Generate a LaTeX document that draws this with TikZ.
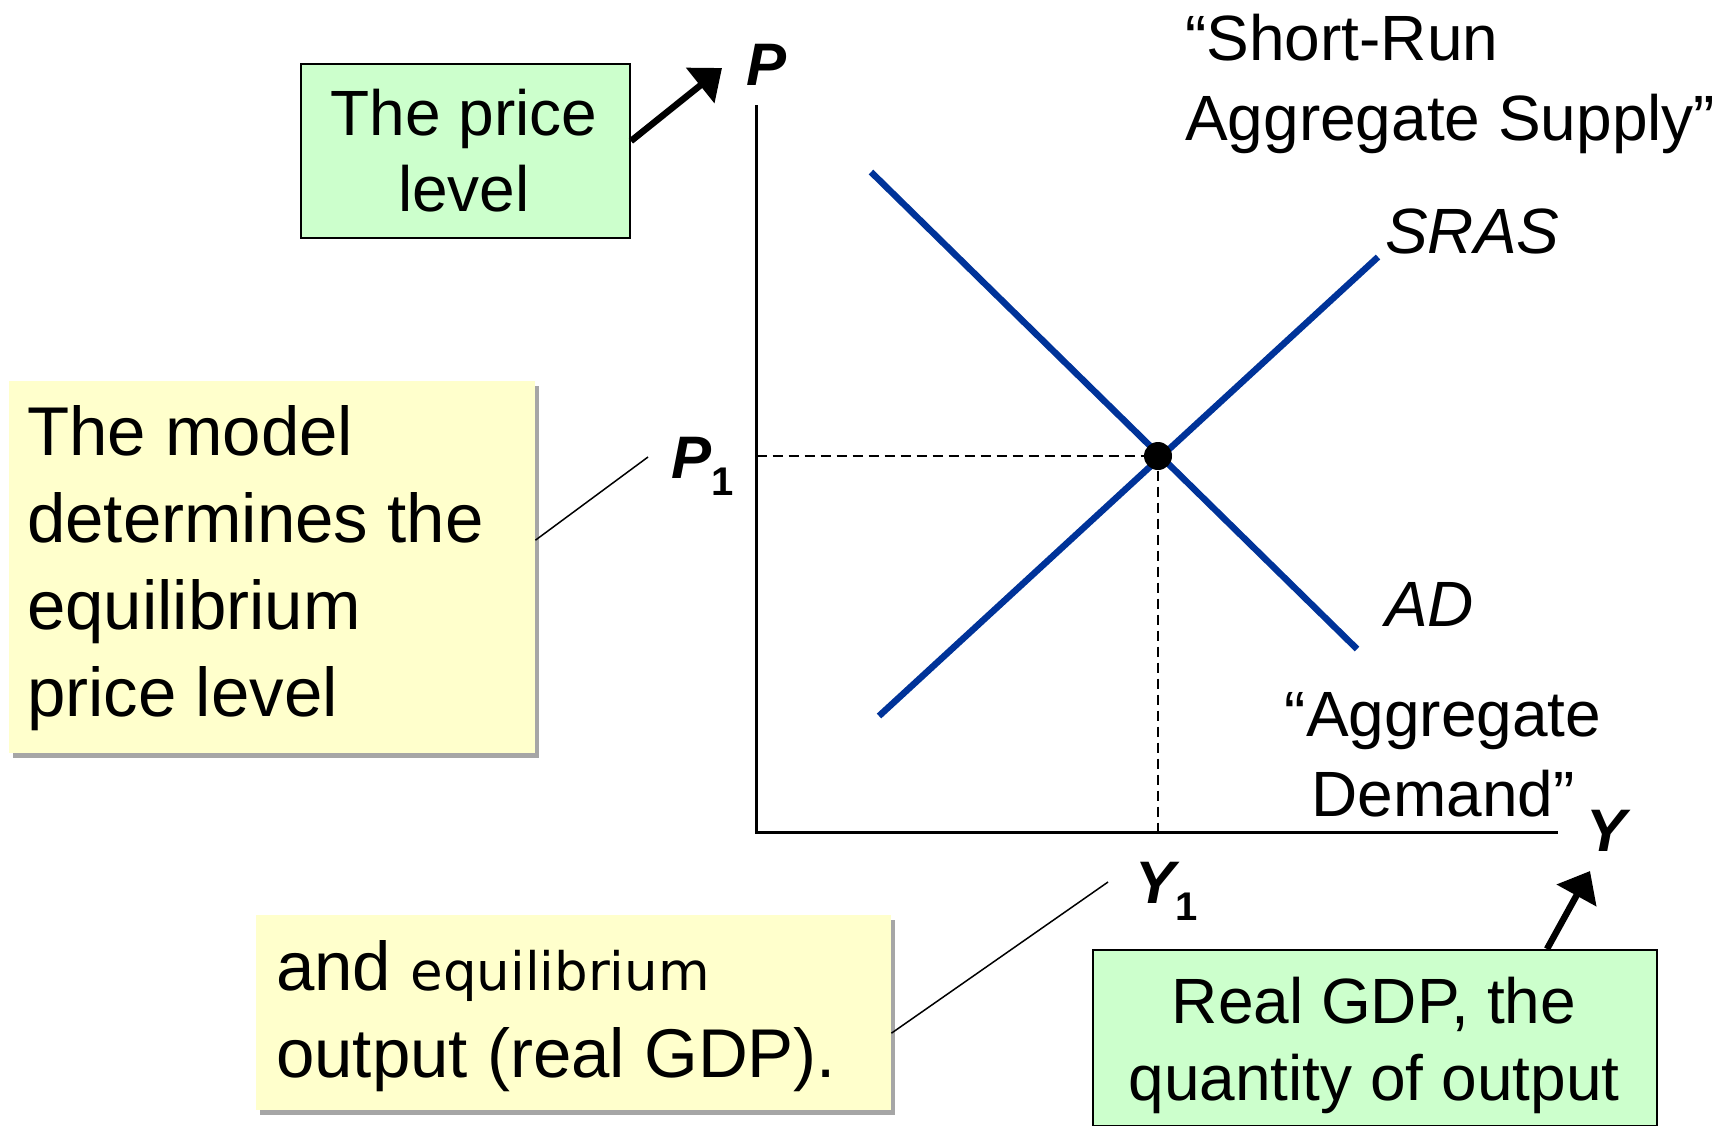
\documentclass[tikz,border=0pt]{standalone}
\usepackage{fontspec}
\setmainfont{Liberation Sans}
\newfontfamily\eqfont{DejaVu Sans}
\usetikzlibrary{arrows.meta,shadows}
\definecolor{yfill}{HTML}{FFFFCC}
\definecolor{gfill}{HTML}{CCFFCC}
\definecolor{curveblue}{HTML}{003399}
\begin{document}
\begin{tikzpicture}[x=1pt,y=-1pt,
  ybox/.style={fill=yfill, draw=none, inner sep=0pt,
    drop shadow={shadow xshift=4pt,shadow yshift=-5pt,opacity=0.35,fill=black}},
  gbox/.style={fill=gfill, draw=black, line width=2pt, inner sep=0pt},
  txt/.style={inner sep=0pt, font=\fontsize{69}{87}\selectfont, align=left},
  axislbl/.style={inner sep=0pt, font=\fontsize{60}{60}\selectfont\bfseries\itshape},
  curvelbl/.style={inner sep=0pt, font=\fontsize{64}{79}\selectfont\itshape},
  curveline/.style={draw=curveblue, line width=6.5pt},
  bigarrow/.style={line width=6.5pt, -{Triangle[length=28pt,width=44pt]}},
  leader/.style={line width=1.5pt},
  guide/.style={line width=1.6pt, dash pattern=on 10pt off 6pt},
  axisline/.style={line width=2.2pt}]
\useasboundingbox (0,0) rectangle (1729,1125);

% boxes (multi-line text nodes are anchored at the baseline of their last line)
\node[ybox, anchor=north west, minimum width=526pt, minimum height=372pt] (model) at (9,381) {};
\node[txt, anchor=base west] (modeltxt) at (27,716) {The model\\determines the\\equilibrium\\price level};

\node[ybox, anchor=north west, minimum width=635pt, minimum height=195pt] (andbox) at (256,915) {};
\node[txt, anchor=base west] (andtxt) at (276,1077) {and {\eqfont\fontsize{53}{87}\selectfont equilibrium}\\output (real GDP).};

\node[gbox, anchor=north west, minimum width=329pt, minimum height=174pt] (gp) at (300,63) {};
\node[txt, font=\fontsize{64}{76.7}\selectfont, align=center, anchor=base] (gptxt) at (464,211.7) {The price\\level};

\node[gbox, anchor=north west, minimum width=564pt, minimum height=176pt] (rgdp) at (1092,949) {};
\node[txt, font=\fontsize{64}{77}\selectfont, align=center, anchor=base] (rgdptxt) at (1374,1100) {Real GDP, the\\quantity of output};

% titles
\node[txt, font=\fontsize{64}{79.5}\selectfont, anchor=base west] (srastitle) at (1185,140) {“Short-Run\\Aggregate Supply”};
\node[txt, font=\fontsize{64}{79.5}\selectfont, align=center, anchor=base] (adtitle) at (1443,816) {“Aggregate\\Demand”};

% axes
\coordinate (O) at (756.5,832.5);
\coordinate (ytop) at (756.5,105);
\coordinate (xend) at (1558,832.5);
\draw[axisline] (ytop) -- (O) -- (xend);

% curves
\coordinate (adA) at (871,172);
\coordinate (adB) at (1357,649);
\coordinate (srA) at (879,716);
\coordinate (srB) at (1378,257);
\coordinate (E) at (1158,456);
\draw[guide] (O |- E) -- (E) -- (E |- O);
\draw[curveline] (adA) -- (adB);
\draw[curveline] (srA) -- (srB);
\fill (E) circle (14);

% labels
\node[axislbl, anchor=base] (P) at (766,85) {P};
\node[axislbl, anchor=base] (Y) at (1606,851) {Y};
\node[axislbl, anchor=base west] (P1) at (671,478) {P\raisebox{-17pt}{\fontsize{40}{40}\selectfont\upshape 1}};
\node[axislbl, anchor=base west] (Y1) at (1135,903) {Y\raisebox{-17pt}{\fontsize{40}{40}\selectfont\upshape 1}};
\node[curvelbl, anchor=base west] (sras) at (1385,253) {SRAS};
\node[curvelbl, anchor=base west] (ad) at (1385,626) {AD};

% arrows
\coordinate (ptip) at (722,68);
\draw[bigarrow] ([yshift=10pt]gp.east) -- (ptip);
\coordinate (ytip) at (1590,871);
\draw[bigarrow] ([xshift=172pt]rgdp.north) -- (ytip);

% leaders
\coordinate (pc) at (648,457);
\draw[leader] ([yshift=27pt]model.east) -- (pc);
\coordinate (yc) at (1108,882);
\draw[leader] ([yshift=-20.5pt]andbox.east) -- (yc);
\end{tikzpicture}
\end{document}
